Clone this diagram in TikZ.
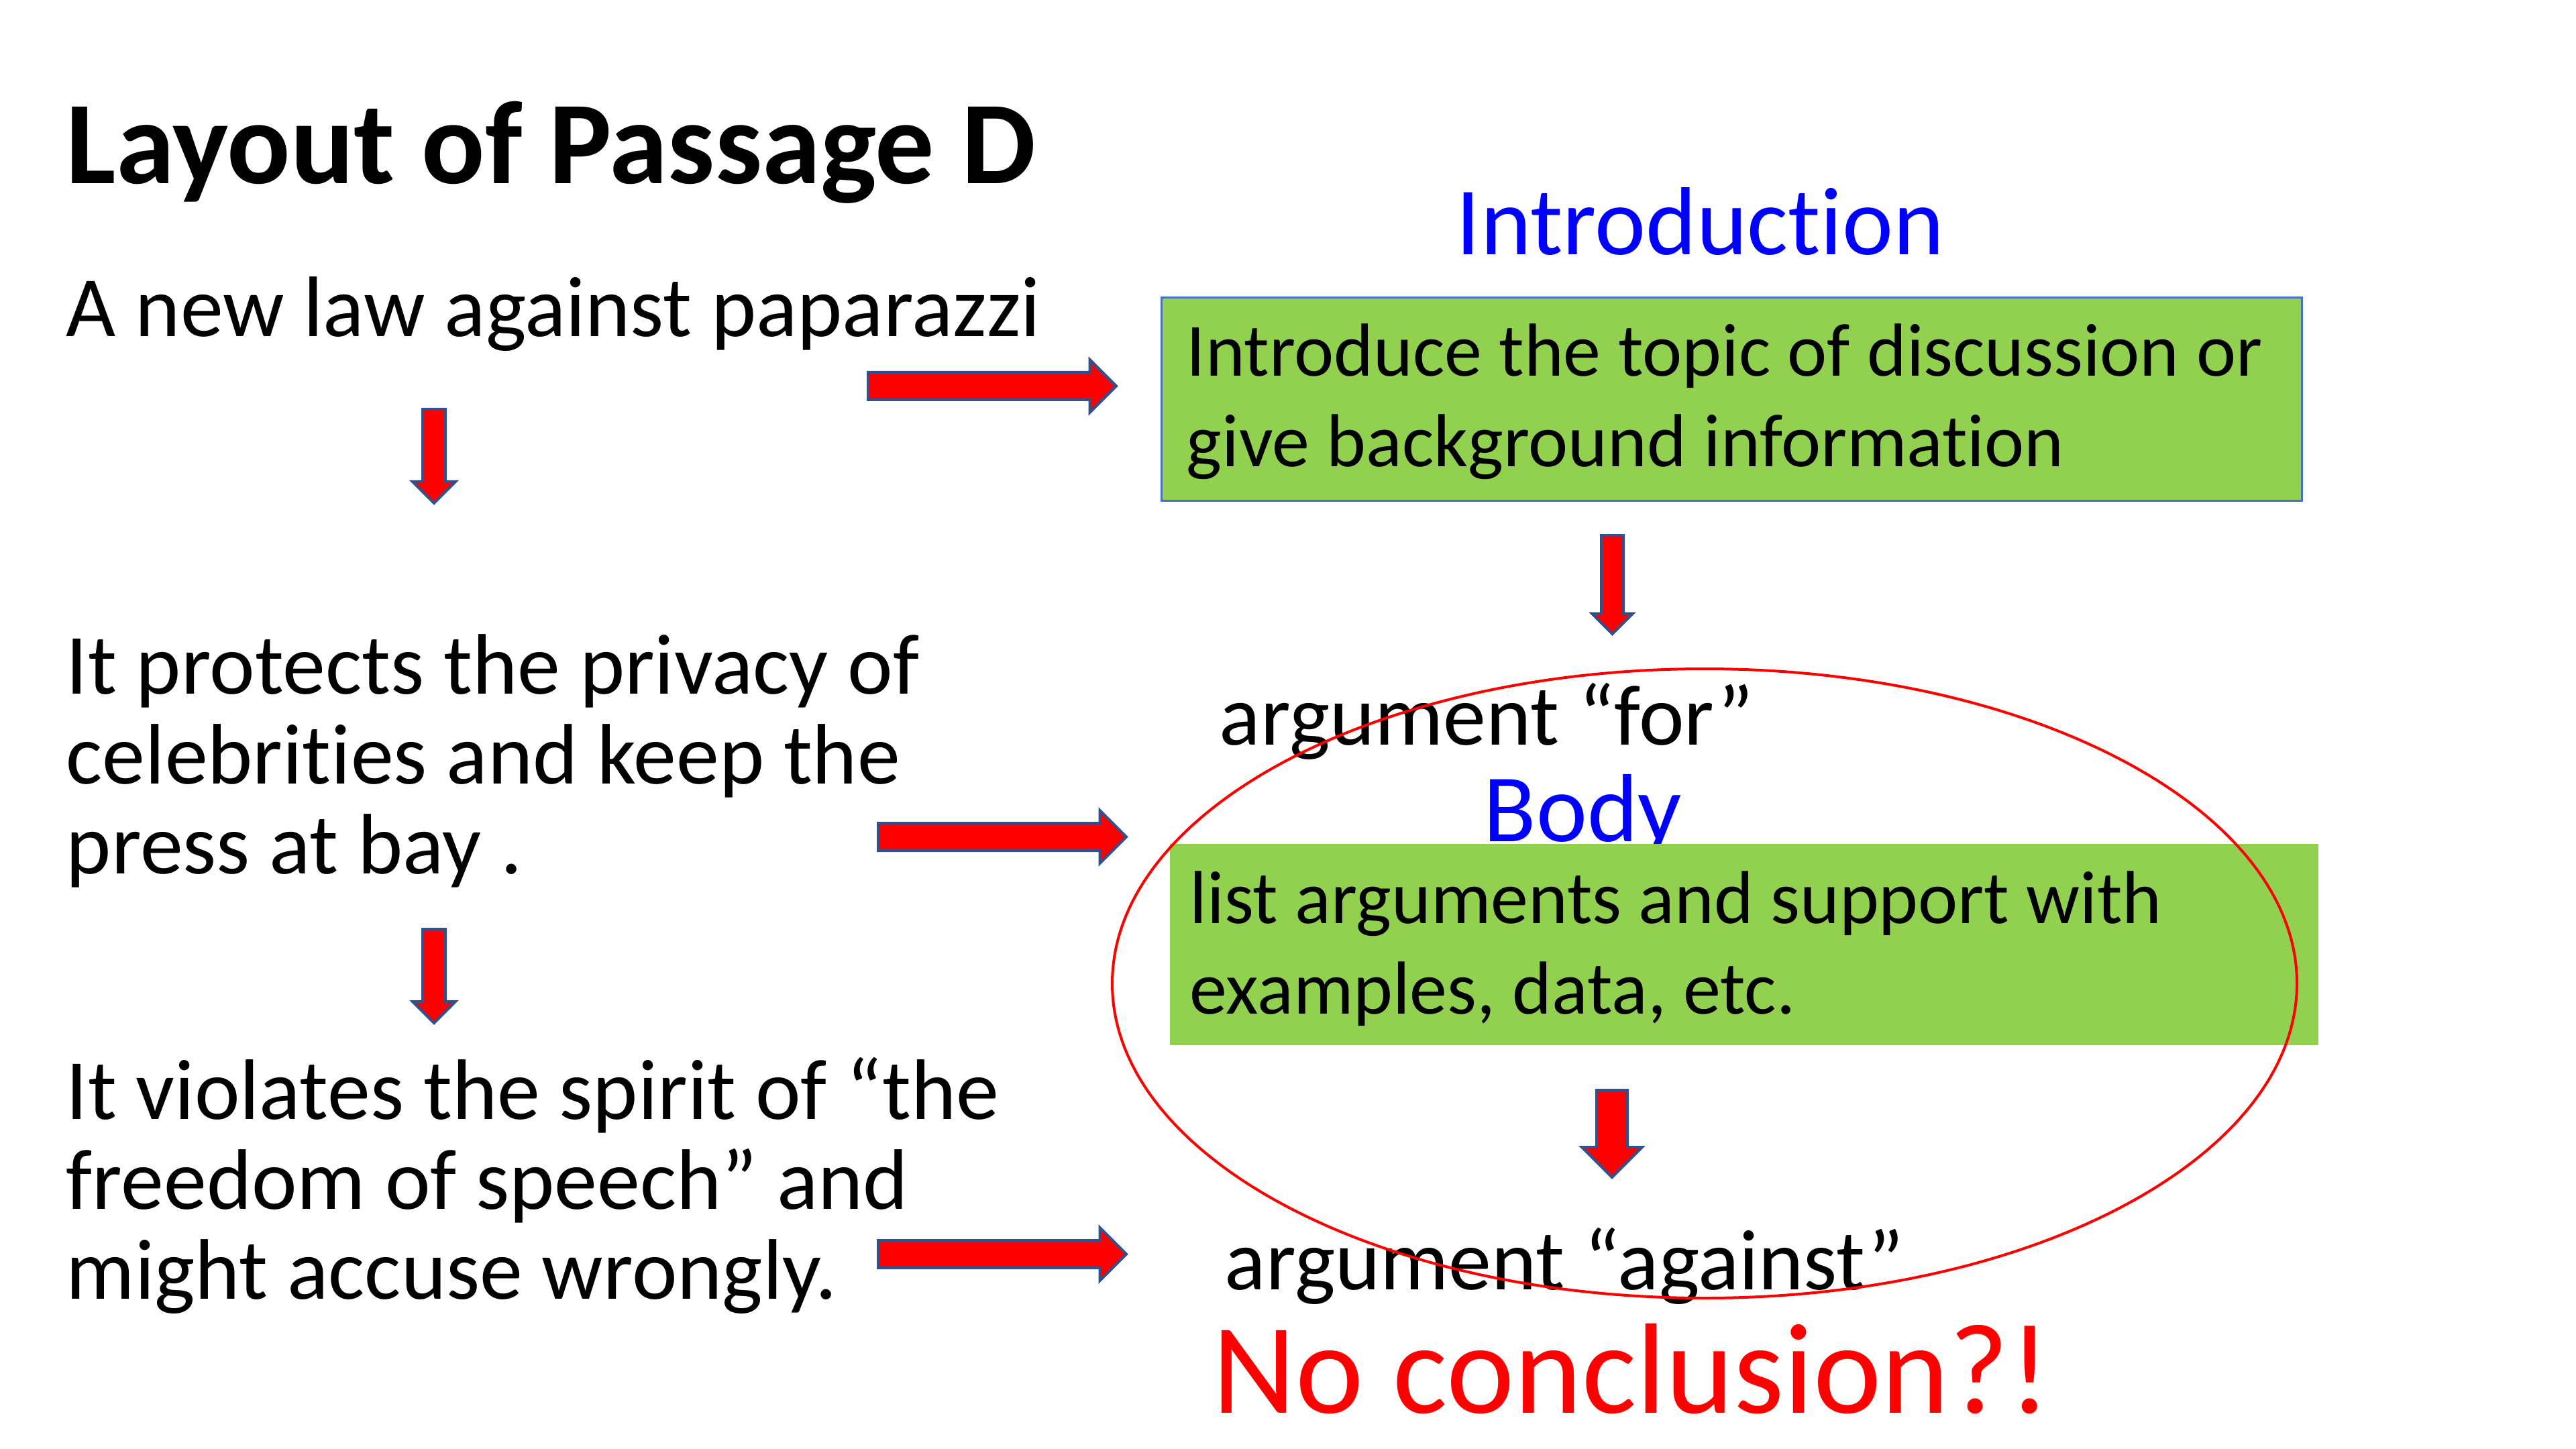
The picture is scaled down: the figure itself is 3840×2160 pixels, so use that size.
\documentclass[tikz,border=0pt]{standalone}
\usepackage{fontspec}
\setmainfont{Carlito}[Ligatures=TeX,RawFeature={-liga;-clig;-calt}]
\usetikzlibrary{shapes.arrows}
\definecolor{arrowblue}{HTML}{2F528F}
\definecolor{boxgreen}{HTML}{92D050}
\definecolor{boxedge}{HTML}{4472C4}
\definecolor{headblue}{HTML}{0000FF}
\definecolor{ringred}{HTML}{FF0000}

\begin{document}
\begin{tikzpicture}[x=0.25pt,y=-0.25pt,
    body/.style={inner sep=0pt,anchor=base west,align=left,font=\fontsize{32}{33.5}\selectfont},
    boxtext/.style={body,font=\fontsize{28}{33.75}\selectfont},
    heading/.style={inner sep=0pt,anchor=base west,text=headblue,font=\fontsize{36}{40}\selectfont},
    greenbox/.style={fill=boxgreen,anchor=north west,inner sep=0pt},
    blockarrow/.style={single arrow,draw=arrowblue,fill=red,line width=1pt,inner xsep=0pt,
        single arrow head indent=0pt,anchor=tail}]
    \fill[white] (0,0) rectangle (3840,2160);
    \useasboundingbox (0,0) rectangle (3840,2160);

    % left column: the passage (base = last line)
    \node[body,font=\fontsize{44}{48}\selectfont\bfseries] (title) at (98,274) {Layout of Passage D};
    \node[body] (law) at (98,502) {A new law against paparazzi};
    \node[body] (protect) at (98,1302) {It protects the privacy of\\celebrities and keep the\\press at bay .};
    \node[body] (violate) at (98,1936) {It violates the spirit of “the\\freedom of speech” and\\might accuse wrongly.};

    % right column: the layout
    \node[heading] (intro) at (2170,380) {Introduction};
    \node[greenbox,draw=boxedge,line width=0.75pt,minimum width=425pt,minimum height=75.75pt] (introbox) at (1730,442) {};
    \node[boxtext] (introtext) at (1768,696) {Introduce the topic of discussion or\\give background information};
    \node[body] (for) at (1817,1110) {argument “for”};
    \node[heading] (body) at (2211,1254) {Body};
    \node[greenbox,minimum width=428pt,minimum height=75pt] (bodybox) at (1743,1257) {};
    \node[boxtext] (bodytext) at (1773,1511) {list arguments and support with\\examples, data, etc.};
    \node[body] (against) at (1825,1922) {argument “against”};
    \node[body,text=ringred,font=\fontsize{48}{52}\selectfont] (noconc) at (1807,2106) {No conclusion?!};

    % block arrows
    \node[blockarrow,minimum height=92.5pt,inner ysep=4.625pt,single arrow head extend=4.75pt] (a1) at (1292,575.5) {};
    \node[blockarrow,minimum height=92.5pt,inner ysep=4.625pt,single arrow head extend=4.75pt] (a2) at (1307,1247.5) {};
    \node[blockarrow,minimum height=92.5pt,inner ysep=4.625pt,single arrow head extend=4.75pt] (a3) at (1307,1869.5) {};
    \node[blockarrow,rotate=-90,minimum height=35pt,inner ysep=3.75pt,single arrow head extend=3.75pt] (d1) at (647,608) {};
    \node[blockarrow,rotate=-90,minimum height=35pt,inner ysep=3.75pt,single arrow head extend=3.75pt] (d2) at (647,1383) {};
    \node[blockarrow,rotate=-90,minimum height=36.75pt,inner ysep=3.625pt,single arrow head extend=3.5pt] (d3) at (2403.5,796) {};
    \node[blockarrow,rotate=-90,minimum height=32.5pt,inner ysep=5.25pt,single arrow head extend=5.5pt] (d4) at (2403,1623) {};

    % ring round the body part
    \draw[ringred,line width=1pt] (2541,1466) ellipse [x radius=220.75pt,y radius=117.25pt];
\end{tikzpicture}
\end{document}
